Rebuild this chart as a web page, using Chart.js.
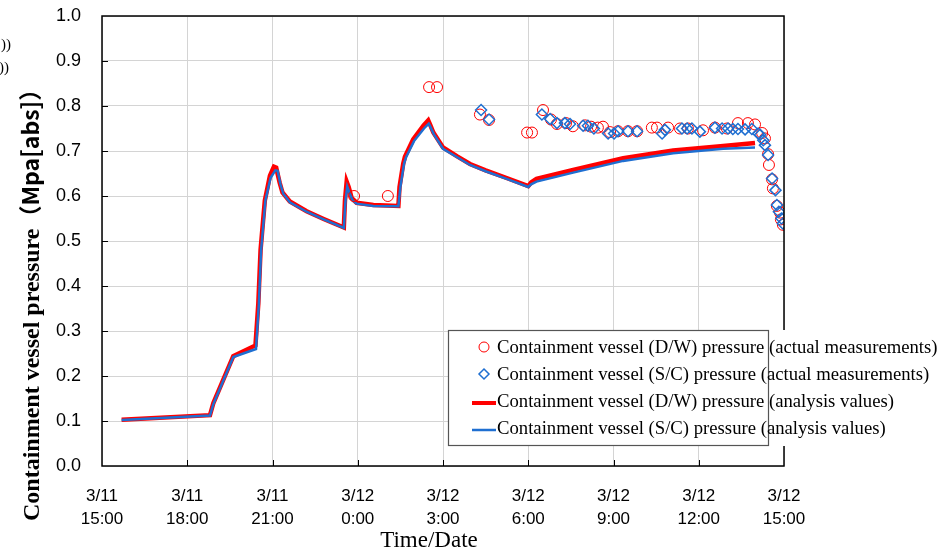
<!DOCTYPE html>
<html>
<head>
<meta charset="utf-8">
<script src="https://cdn.jsdelivr.net/npm/chart.js@4"></script>
<style>
  html, body { margin: 0; padding: 0; background: #fff; }
  #wrap { width: 941px; height: 555px; position: relative; }
</style>
</head>
<body>
<div id="wrap"><canvas id="chart1"></canvas></div>
<script>
// hours counted from 3/11 15:00
var xTickLabels = [['3/11', '15:00'], ['3/11', '18:00'], ['3/11', '21:00'], ['3/12', '0:00'], ['3/12', '3:00'],
    ['3/12', '6:00'], ['3/12', '9:00'], ['3/12', '12:00'], ['3/12', '15:00']];

var legendLabels = [
    'Containment vessel (D/W) pressure (actual measurements)',
    'Containment vessel (S/C) pressure (actual measurements)',
    'Containment vessel (D/W) pressure (analysis values)',
    'Containment vessel (S/C) pressure (analysis values)'
];

// D/W measured
var dwMeasHours = [8.87, 10.06, 11.51, 11.79, 13.30, 13.62, 14.96, 15.13, 15.52, 15.80, 16.01, 16.33, 16.57, 17.00,
    17.21, 17.45, 17.63, 17.88, 18.16, 18.51, 18.83, 19.35, 19.53, 19.92, 20.34, 20.62, 21.15, 21.57, 21.99, 22.38,
    22.73, 22.98, 23.23, 23.33, 23.44, 23.47, 23.58, 23.61, 23.75, 23.86, 23.89, 23.96];
var dwMeasValues = [0.600, 0.600, 0.842, 0.842, 0.781, 0.769, 0.741, 0.741, 0.791, 0.770, 0.760, 0.762, 0.755, 0.757,
    0.754, 0.752, 0.754, 0.742, 0.744, 0.744, 0.744, 0.752, 0.752, 0.752, 0.750, 0.750, 0.746, 0.752, 0.750, 0.762,
    0.762, 0.759, 0.740, 0.728, 0.693, 0.669, 0.637, 0.617, 0.578, 0.563, 0.548, 0.536];

// S/C measured
var scMeasHours = [13.34, 13.62, 15.48, 15.77, 16.01, 16.29, 16.47, 16.93, 17.10, 17.31, 17.81, 18.02, 18.16, 18.51,
    18.83, 19.71, 19.81, 20.41, 20.59, 20.76, 21.04, 21.57, 21.82, 22.03, 22.20, 22.38, 22.63, 22.87, 23.09, 23.16,
    23.27, 23.33, 23.44, 23.58, 23.70, 23.75, 23.82, 23.91, 23.96];
var scMeasValues = [0.791, 0.770, 0.781, 0.771, 0.762, 0.762, 0.760, 0.756, 0.756, 0.750, 0.739, 0.739, 0.744, 0.744,
    0.744, 0.739, 0.747, 0.750, 0.750, 0.750, 0.743, 0.752, 0.750, 0.750, 0.749, 0.749, 0.748, 0.749, 0.739, 0.736,
    0.724, 0.713, 0.691, 0.639, 0.613, 0.580, 0.565, 0.550, 0.539];

// D/W analysis
var dwCalcHours = [0.69, 3.80, 3.92, 4.62, 5.40, 5.50, 5.58, 5.73, 5.91, 6.05, 6.13, 6.25, 6.35, 6.61, 7.2, 7.8,
    8.51, 8.55, 8.61, 8.68, 8.79, 8.96, 9.55, 10.43, 10.47, 10.60, 10.66, 10.95, 11.31, 11.48, 11.55, 11.66, 12.0,
    12.5, 12.95, 13.5, 14.24, 15.0, 15.1, 15.29, 16.58, 18.34, 20.1, 21.86, 22.98];
var dwCalcValues = [0.103, 0.113, 0.140, 0.244, 0.268, 0.360, 0.480, 0.590, 0.645, 0.665, 0.663, 0.630, 0.608, 0.588,
    0.566, 0.549, 0.530, 0.590, 0.632, 0.620, 0.595, 0.585, 0.580, 0.578, 0.620, 0.672, 0.687, 0.726, 0.756, 0.768,
    0.758, 0.741, 0.708, 0.688, 0.671, 0.657, 0.640, 0.622, 0.630, 0.638, 0.658, 0.684, 0.701, 0.711, 0.718];

// S/C analysis
var scCalcHours = [0.69, 3.80, 3.92, 4.62, 5.42, 5.52, 5.60, 5.75, 5.93, 6.10, 6.18, 6.28, 6.38, 6.61, 7.2, 7.8,
    8.51, 8.57, 8.63, 8.72, 8.82, 8.96, 9.55, 10.43, 10.50, 10.63, 10.70, 10.98, 11.33, 11.50, 11.57, 11.68, 12.0,
    12.5, 12.95, 13.5, 14.24, 15.0, 15.1, 15.29, 16.58, 18.34, 20.1, 21.86, 22.98];
var scCalcValues = [0.102, 0.112, 0.138, 0.242, 0.260, 0.360, 0.480, 0.590, 0.640, 0.657, 0.656, 0.626, 0.605, 0.586,
    0.565, 0.548, 0.529, 0.590, 0.621, 0.605, 0.590, 0.583, 0.578, 0.577, 0.620, 0.672, 0.686, 0.722, 0.750, 0.761,
    0.752, 0.737, 0.705, 0.686, 0.669, 0.655, 0.638, 0.620, 0.626, 0.632, 0.652, 0.678, 0.695, 0.705, 0.708];

var RED = '#ff0000';
var BLUE = '#1f6fd1';

function pts(xs, ys) {
    return xs.map(function (x, i) { return { x: x, y: ys[i] }; });
}

// border, inner ticks, legend and side texts
var decor = {
    id: 'decor',
    beforeDraw: function (chart) {
        var c = chart.ctx;
        c.save();
        c.fillStyle = '#fff';
        c.fillRect(0, 0, chart.width, chart.height);
        c.restore();
    },
    afterDraw: function (chart) {
        var c = chart.ctx, a = chart.chartArea;
        var xs = chart.scales.x, ys = chart.scales.y;
        c.save();
        // inner ticks
        c.strokeStyle = '#000';
        c.lineWidth = 1;
        c.beginPath();
        for (var v = 1; v < 10; v++) {
            var py = Math.round(ys.getPixelForValue(v / 10)) + 0.5;
            c.moveTo(a.left, py); c.lineTo(a.left + 6, py);
        }
        for (var h = 3; h < 24; h += 3) {
            var px = Math.round(xs.getPixelForValue(h)) + 0.5;
            c.moveTo(px, a.bottom); c.lineTo(px, a.bottom - 6);
        }
        c.stroke();
        // box
        c.lineWidth = 1.5;
        c.strokeRect(a.left, a.top, a.right - a.left, a.bottom - a.top);

        // legend
        var lx = 448, ly = 330;
        c.fillStyle = '#fff';
        c.fillRect(lx, ly, 941 - lx, 116);
        c.strokeStyle = '#555';
        c.lineWidth = 1.2;
        c.strokeRect(lx + 0.5, ly + 0.5, 320, 115);
        c.font = '18.7px "Liberation Serif", "Times New Roman", serif';
        c.textBaseline = 'middle';
        c.textAlign = 'left';
        for (var i = 0; i < legendLabels.length; i++) {
            var ry = 347 + i * 27;
            c.fillStyle = '#000';
            c.fillText(legendLabels[i], 497, ry + 1);
            if (i === 0) {
                c.strokeStyle = RED; c.lineWidth = 1;
                c.beginPath(); c.arc(484, ry, 5, 0, Math.PI * 2); c.stroke();
            } else if (i === 1) {
                c.strokeStyle = BLUE; c.lineWidth = 1.5;
                c.beginPath();
                c.moveTo(484, ry - 5); c.lineTo(489, ry); c.lineTo(484, ry + 5); c.lineTo(479, ry); c.closePath();
                c.stroke();
            } else {
                c.strokeStyle = i === 2 ? RED : BLUE;
                c.lineWidth = i === 2 ? 4 : 2.5;
                c.beginPath(); c.moveTo(472, ry + 2); c.lineTo(496, ry + 2); c.stroke();
            }
        }

        // x title
        c.fillStyle = '#000';
        c.font = '23px "Liberation Serif", "Times New Roman", serif';
        c.textAlign = 'center';
        c.textBaseline = 'middle';
        c.fillText('Time/Date', 429, 541);

        // y title
        c.save();
        c.translate(39, 521);
        c.rotate(-Math.PI / 2);
        c.fillStyle = '#000';
        c.textAlign = 'left';
        c.textBaseline = 'alphabetic';
        c.font = 'bold 24px "Liberation Serif", "Times New Roman", serif';
        var t1 = 'Containment vessel pressure';
        c.fillText(t1, 0, 0);
        var w1 = c.measureText(t1).width;
        c.font = 'bold 23px "Noto Sans CJK JP", sans-serif';
        c.fillText('（Mpa[abs]）', w1, 0);
        c.restore();

        // cut-off text at the left edge
        c.fillStyle = '#000';
        c.font = '15px "Liberation Serif", serif';
        c.textAlign = 'right';
        c.textBaseline = 'middle';
        c.fillText('))', 11, 45);
        c.fillText('))', 9, 68);
        c.restore();
    }
};

var ctx1 = document.getElementById('chart1').getContext('2d');
var chart1 = new Chart(ctx1, {
    type: 'scatter',
    data: {
        datasets: [
            {
                label: legendLabels[1],
                data: pts(scMeasHours, scMeasValues),
                pointStyle: 'rectRot',
                pointRadius: 5.5,
                pointBorderWidth: 1.5,
                pointBorderColor: BLUE,
                pointBackgroundColor: 'rgba(0,0,0,0)',
                showLine: false
            },
            {
                label: legendLabels[0],
                data: pts(dwMeasHours, dwMeasValues),
                pointStyle: 'circle',
                pointRadius: 5.5,
                pointBorderWidth: 1,
                pointBorderColor: RED,
                pointBackgroundColor: 'rgba(0,0,0,0)',
                showLine: false
            },
            {
                label: legendLabels[3],
                data: pts(scCalcHours, scCalcValues),
                showLine: true,
                borderColor: BLUE,
                borderWidth: 2.5,
                pointRadius: 0,
                tension: 0
            },
            {
                label: legendLabels[2],
                data: pts(dwCalcHours, dwCalcValues),
                showLine: true,
                borderColor: RED,
                borderWidth: 4.5,
                pointRadius: 0,
                tension: 0
            }
        ]
    },
    options: {
        responsive: true,
        maintainAspectRatio: false,
        animation: false,
        layout: { padding: { left: 0, top: 16, right: 157, bottom: 0 } },
        plugins: {
            legend: { display: false },
            tooltip: { enabled: false }
        },
        scales: {
            x: {
                type: 'linear',
                min: 0,
                max: 24,
                afterFit: function (s) { s.height = 89; s.paddingLeft = 0; s.paddingRight = 0; },
                afterBuildTicks: function (s) {
                    s.ticks = xTickLabels.map(function (l, i) { return { value: i * 3 }; });
                },
                grid: { color: '#d4d4d4', lineWidth: 1, drawTicks: false },
                border: { display: false },
                ticks: {
                    padding: 19,
                    maxRotation: 0,
                    color: '#000',
                    font: { family: '"Liberation Sans", Arial, sans-serif', size: 17, lineHeight: 1.35 },
                    callback: function (v) { return xTickLabels[Math.round(v / 3)]; }
                }
            },
            y: {
                min: 0,
                max: 1,
                afterFit: function (s) { s.width = 102; s.paddingTop = 0; s.paddingBottom = 0; },
                grid: { color: '#d4d4d4', lineWidth: 1, drawTicks: false },
                border: { display: false },
                ticks: {
                    stepSize: 0.1,
                    padding: 21,
                    color: '#000',
                    font: { family: '"Liberation Sans", Arial, sans-serif', size: 18 },
                    callback: function (v) { return v.toFixed(1); }
                }
            }
        }
    },
    plugins: [decor]
});
</script>
</body>
</html>
